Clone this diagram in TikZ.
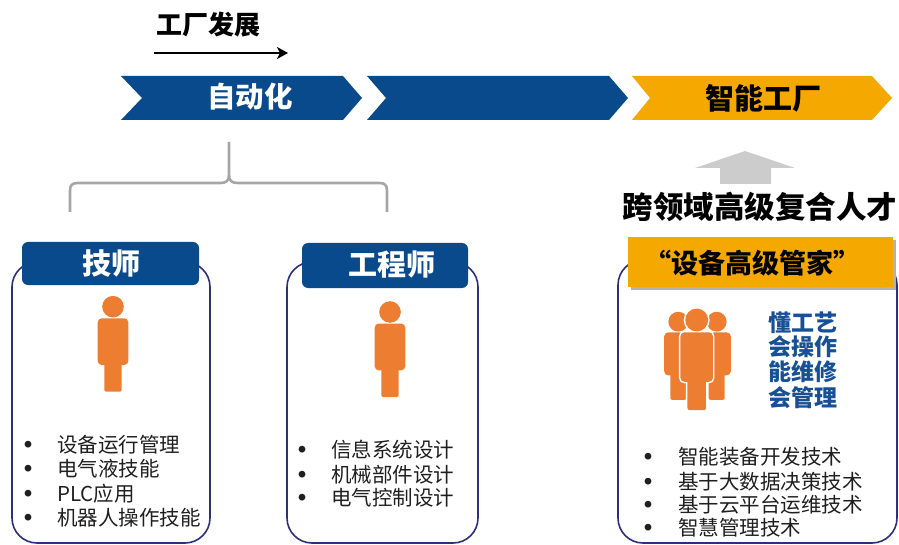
\documentclass[tikz,border=0pt]{standalone}
\usepackage{fontspec}
\setmainfont{Noto Sans CJK SC}
\usetikzlibrary{arrows.meta}
\definecolor{navy}{RGB}{8,74,140}
\definecolor{gold}{RGB}{245,168,0}
\definecolor{outl}{RGB}{44,48,120}
\definecolor{pers}{RGB}{237,125,49}
\definecolor{skyt}{RGB}{24,80,150}
\definecolor{braceg}{RGB}{166,166,166}
\definecolor{arrg}{RGB}{204,204,204}
\tikzset{
 card/.style={draw=outl, line width=1.6pt, rounded corners=25pt},
 tabb/.style={fill=navy, rounded corners=6pt},
 item/.style={anchor=west, inner sep=0pt, text=black!88, font=\fontsize{20.5}{20.5}\selectfont, text height=18pt, text depth=2.5pt},
 bul/.style={inner sep=0pt, text=black!88, font=\fontsize{7.5}{7.5}\selectfont, text height=6.6pt, text depth=0.9pt},
 ttl/.style={inner sep=0pt, font=\bfseries\fontsize{26}{26}\selectfont, text height=22.9pt, text depth=3.1pt},
 chvw/.style={inner sep=0pt, text=white, font=\bfseries\fontsize{28.5}{28.5}\selectfont, text height=25.1pt, text depth=3.4pt},
 chvk/.style={inner sep=0pt, text=black, font=\bfseries\fontsize{29}{29}\selectfont, text height=25.5pt, text depth=3.5pt},
 hdw/.style={inner sep=0pt, text=white, font=\bfseries\fontsize{29}{29}\selectfont, text height=25.5pt, text depth=3.5pt},
 hdk/.style={inner sep=0pt, text=black, font=\bfseries\fontsize{27}{27}\selectfont, text height=23.8pt, text depth=3.2pt},
 big/.style={inner sep=0pt, text=black, font=\bfseries\fontsize{30.5}{30.5}\selectfont, text height=26.8pt, text depth=3.7pt},
 bluet/.style={inner sep=0pt, text=skyt, font=\bfseries\fontsize{23}{23}\selectfont, text height=20.2pt, text depth=2.8pt},
 braceline/.style={draw=braceg, line width=2.6pt},
 person/.pic={
   \fill[pers] (0,0) circle (10.8);
   \fill[pers, rounded corners=4pt] (-15.3,11.6) rectangle (15.3,58.3);
   \fill[pers, rounded corners=2pt] (-8.7,50) rectangle (8.7,85);
 },
 personw/.pic={
   \draw[white, line width=3pt] (0,0) circle (10.8);
   \draw[white, line width=3pt, rounded corners=4pt] (-15.3,11.6) rectangle (15.3,58.3);
   \draw[white, line width=3pt, rounded corners=2pt] (-8.7,50) rectangle (8.7,85);
   \fill[pers] (0,0) circle (10.8);
   \fill[pers, rounded corners=4pt] (-15.3,11.6) rectangle (15.3,58.3);
   \fill[pers, rounded corners=2pt] (-8.7,50) rectangle (8.7,85);
 }
}
\begin{document}
\begin{tikzpicture}[x=1pt,y=-1pt]
\useasboundingbox (0,0) rectangle (899,545);
% title and arrow
\node[ttl] (title) at (208,25) {工厂发展};
\coordinate (arrA) at (154,53);
\coordinate (arrB) at (288,53);
\draw[line width=2.4pt, -{Stealth[length=11pt,width=12pt,inset=3pt]}] (arrA) -- (arrB);
% chevrons
\fill[navy] (121,76) -- (343,76) -- (362,98) -- (343,120) -- (121,120) -- (142,98) -- cycle;
\fill[navy] (367,76) -- (609,76) -- (628,98) -- (609,120) -- (367,120) -- (386,98) -- cycle;
\fill[gold] (632,76) -- (872,76) -- (892,98) -- (872,120) -- (632,120) -- (650,98) -- cycle;
\node[chvw] (auto) at (250,97) {自动化};
\node[chvk] (smart) at (763,99) {智能工厂};
% brace
\draw[braceline] (70,212) -- (70,191) .. controls (70,185) and (72,183) .. (78,183) -- (220,183) .. controls (226,183) and (229,181) .. (229,175) -- (229,142);
\draw[braceline] (229,175) .. controls (229,181) and (232,183) .. (238,183) -- (379,183) .. controls (385,183) and (387,185) .. (387,191) -- (387,212);
% gray arrow
\fill[arrg] (720,184) -- (720,168) -- (695,168) -- (745,151) -- (795,168) -- (771,168) -- (771,184) -- cycle;
\node[big] (talent) at (760,207) {跨领域高级复合人才};
% card 1
\draw[card] (12,262) rectangle (210,543);
\fill[tabb] (22,242) rectangle (199,285);
\node[hdw] (tech) at (111,264) {技师};
\pic at (113,306.7) {person};
\node[bul] (b11) at (28,445) {●};
\node[item] (i11) at (57,445) {设备运行管理};
\node[bul] (b12) at (28,469) {●};
\node[item] (i12) at (57,469) {电气液技能};
\node[bul] (b13) at (28,494) {●};
\node[item] (i13) at (57,494) {PLC应用};
\node[bul] (b14) at (28,518) {●};
\node[item] (i14) at (57,518) {机器人操作技能};
% card 2
\draw[card] (287,262) rectangle (478,543);
\fill[tabb] (302,243) rectangle (468,288);
\node[hdw] (eng) at (392,265) {工程师};
\pic at (390,312) {person};
\node[bul] (b21) at (302,450) {●};
\node[item] (i21) at (331,450) {信息系统设计};
\node[bul] (b22) at (302,475) {●};
\node[item] (i22) at (331,475) {机械部件设计};
\node[bul] (b23) at (302,498) {●};
\node[item] (i23) at (331,498) {电气控制设计};
% card 3
\draw[card] (618,260) rectangle (897,543);
\fill[black!30] (631,240) rectangle (896,290);
\fill[gold] (628,237) rectangle (893,287);
\node[hdk] (butler) at (752,263) {“设备高级管家”};
\pic[scale=0.92] at (678.3,321.7) {person};
\pic[scale=0.92] at (716.7,321.7) {person};
\pic[scale=1.06] at (696.7,320) {personw};
\node[bluet] (q1) at (803,323) {懂工艺};
\node[bluet] (q2) at (803,347) {会操作};
\node[bluet] (q3) at (803,372) {能维修};
\node[bluet] (q4) at (803,398) {会管理};
\node[bul] (b31) at (648,457) {●};
\node[item] (i31) at (678,457) {智能装备开发技术};
\node[bul] (b32) at (648,482) {●};
\node[item] (i32) at (678,482) {基于大数据决策技术};
\node[bul] (b33) at (648,505) {●};
\node[item] (i33) at (678,505) {基于云平台运维技术};
\node[bul] (b34) at (648,528) {●};
\node[item] (i34) at (678,528) {智慧管理技术};
\end{tikzpicture}
\end{document}
